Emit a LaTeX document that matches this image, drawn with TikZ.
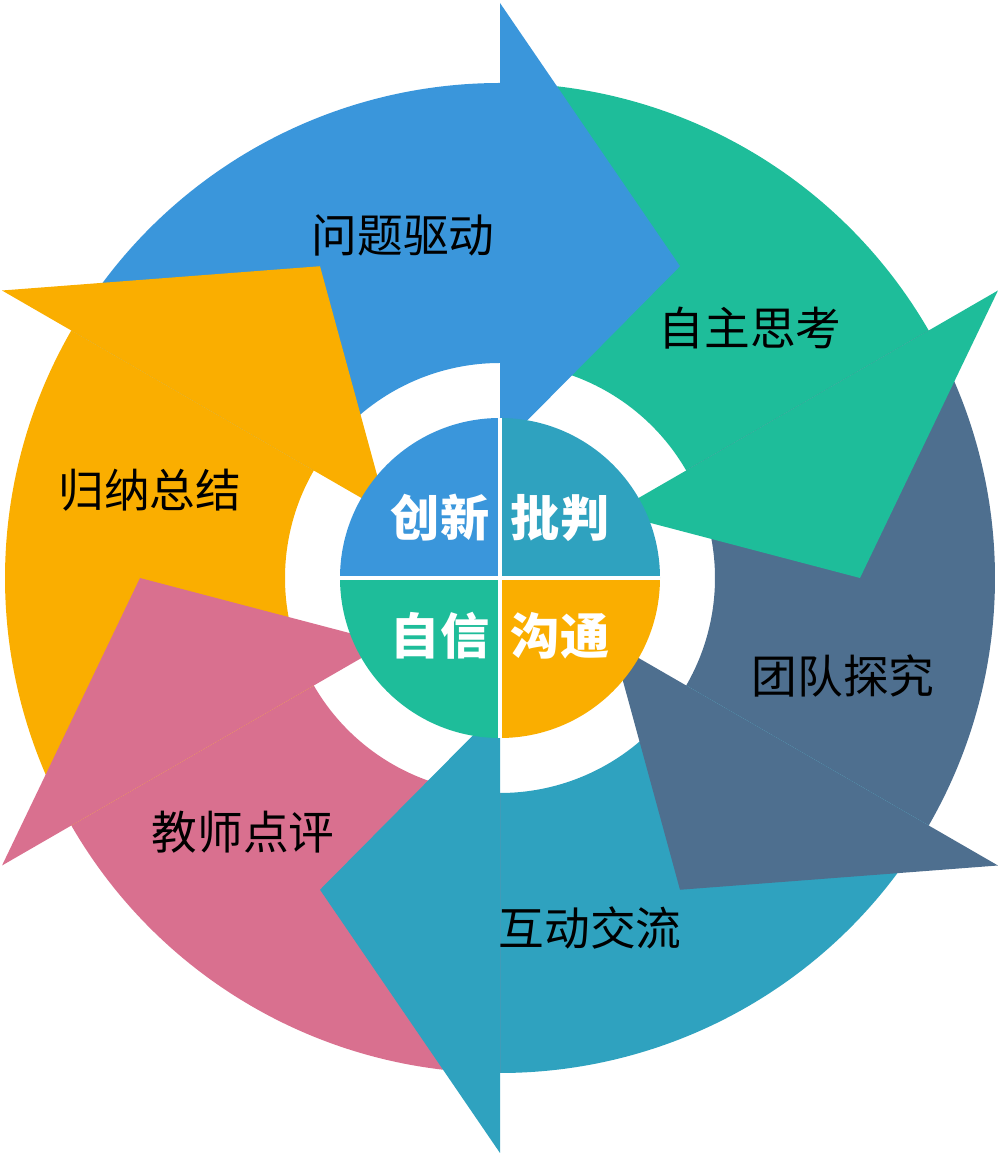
\documentclass[tikz,border=0pt]{standalone}
\usepackage{fontspec}
\setmainfont{Noto Sans CJK SC}
\usetikzlibrary{positioning}
\definecolor{cblue}{HTML}{3A96DB}
\definecolor{cgreen}{HTML}{1EBD9A}
\definecolor{cslate}{HTML}{4E6F8F}
\definecolor{cteal}{HTML}{2FA2BF}
\definecolor{cpink}{HTML}{D9708F}
\definecolor{corange}{HTML}{FAAE00}
\tikzset{
  every picture/.style={font={\fontsize{13pt}{15pt}\selectfont}},
  steplabel/.style={text=black},
  corelabel/.style={text=white, font={\fontsize{14pt}{16pt}\selectfont\bfseries}}}

\begin{document}
\begin{tikzpicture}[x=0.01cm, y=0.01cm]
    \useasboundingbox (0,0) rectangle (1002,1160);

    \begin{scope}[shift={(500,582)}]
      % shafts first, heads on top
      \foreach \a/\c in {90/cblue, 30/cgreen, -30/cslate, -90/cteal, -150/cpink, 150/corange}
        \fill[\c] (\a+60:495) arc[start angle=\a+60, end angle=\a, radius=495]
          -- (\a:215) arc[start angle=\a, end angle=\a+60, radius=215] -- cycle;
      \foreach \a/\c in {90/cblue, 30/cgreen, -30/cslate, -90/cteal, -150/cpink, 150/corange}
        \fill[\c] (\a:130) -- (\a:575) -- (\a-30:360) -- cycle;

      % core circle
      \fill[cblue] (0,0) -- (90:160) arc[start angle=90, end angle=180, radius=160] -- cycle;
      \fill[cteal] (0,0) -- (0:160) arc[start angle=0, end angle=90, radius=160] -- cycle;
      \fill[cgreen] (0,0) -- (180:160) arc[start angle=180, end angle=270, radius=160] -- cycle;
      \fill[corange] (0,0) -- (270:160) arc[start angle=270, end angle=360, radius=160] -- cycle;
      \draw[white, line width=1.2pt] (-160,0) -- (160,0) (0,-160) -- (0,160);
    \end{scope}

    \node[steplabel] (wenti) at (403,925) {问题驱动};
    \node[steplabel] (zizhu) at (750,832) {自主思考};
    \node[steplabel] (tuandui) at (843,484) {团队探究};
    \node[steplabel] (hudong) at (590,232) {互动交流};
    \node[steplabel] (jiaoshi) at (243,328) {教师点评};
    \node[steplabel] (guina) at (150,670) {归纳总结};

    \node[corelabel] (chuangxin) at (440,642) {创新};
    \node[corelabel] (pipan) at (560,642) {批判};
    \node[corelabel] (zixin) at (440,524) {自信};
    \node[corelabel] (goutong) at (560,524) {沟通};
\end{tikzpicture}
\end{document}
